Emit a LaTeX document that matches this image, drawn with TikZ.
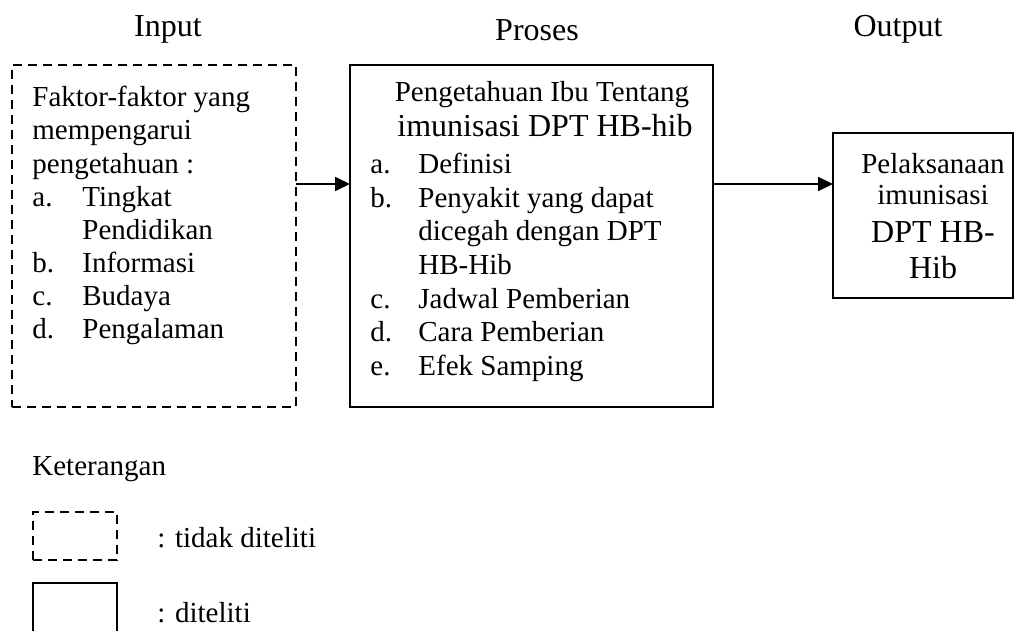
\documentclass[tikz,border=0pt]{standalone}
\usepackage{fontspec}
\setmainfont{Liberation Serif}
\usetikzlibrary{arrows.meta}
\newcommand{\bodyfont}{\fontsize{14.5}{16.65}\selectfont}
\newcommand{\bigfont}{\fontsize{16}{18}\selectfont}
\tikzset{
  frame/.style={draw, line width=1pt, anchor=north west, inner sep=0pt, outer sep=0pt},
  notstudied/.style={dash pattern=on 4.5pt off 3pt},
  studied/.style={solid},
  txt/.style={anchor=base west, inner sep=0pt, font=\bodyfont},
  mid/.style={anchor=base, inner sep=0pt, font=\bodyfont},
  big/.style={anchor=base, inner sep=0pt, font=\bigfont},
  flow/.style={line width=1pt, -{Triangle[length=7.5pt, width=7pt]}}
}
\newcommand{\frameat}[5] {\node at (#1) (#2) [frame, #5, minimum width=#3, minimum height=#4] {};}
\newcommand{\textat}[3] {\node at (#1) (#2) [txt] {#3};}
\newcommand{\itemat}[5] {\node at (#1) (#2) [txt] {\makebox[#3][l]{#4}#5};}

\begin{document}
\begin{tikzpicture}[x=0.5pt, y=-0.5pt]
\useasboundingbox (0,0) rectangle (1017,631);

% headings
\node at (168,37) (hin) [big] {Input};
\node at (537,41) (hpro) [big] {Proses};
\node at (898,37) (hout) [big] {Output};

% boxes
\frameat {12,65} {inp} {142pt} {171pt} {notstudied};
\frameat {350,65} {pros} {181.5pt} {171pt} {studied};
\frameat {833,133} {outp} {90pt} {82.5pt} {studied};

% input
\textat {32,107} {inp1} {Faktor-faktor yang};
\textat {32,140} {inp2} {mempengarui};
\textat {32,173} {inp3} {pengetahuan :};
\itemat {32,206} {inp4} {25pt} {a.} {Tingkat};
\itemat {32,239} {inp5} {25pt} {} {Pendidikan};
\itemat {32,272} {inp6} {25pt} {b.} {Informasi};
\itemat {32,305} {inp7} {25pt} {c.} {Budaya};
\itemat {32,338} {inp8} {25pt} {d.} {Pengalaman};

% proses
\node at (542,102) (pros1) [mid] {Pengetahuan Ibu Tentang};
\node at (545,137) (pros2) [big] {imunisasi DPT HB-hib};
\itemat {370,173} {pros3} {24pt} {a.} {Definisi};
\itemat {370,207} {pros4} {24pt} {b.} {Penyakit yang dapat};
\itemat {370,240} {pros5} {24pt} {} {dicegah dengan DPT};
\itemat {370,274} {pros6} {24pt} {} {HB-Hib};
\itemat {370,308} {pros7} {24pt} {c.} {Jadwal Pemberian};
\itemat {370,341} {pros8} {24pt} {d.} {Cara Pemberian};
\itemat {370,375} {pros9} {24pt} {e.} {Efek Samping};

% output
\node at (933,173) (outp1) [mid] {Pelaksanaan};
\node at (933,205) (outp2) [mid] {imunisasi};
\node at (933,242) (outp3) [big] {DPT HB-};
\node at (933,278) (outp4) [big] {Hib};

% arrows
\coordinate (flowline) at (0,184);
\draw [flow] (inp.east |- flowline) -- (pros.west |- flowline);
\draw [flow] (pros.east |- flowline) -- (outp.west |- flowline);

% legend
\textat {32,475} {ket} {Keterangan};
\frameat {33,512} {keyno} {42pt} {24pt} {notstudied};
\frameat {33,583} {keyyes} {42pt} {31pt} {studied};
\textat {157,547} {keyno1} {: tidak diteliti};
\textat {157,622} {keyyes1} {: diteliti};
\end{tikzpicture}
\end{document}
